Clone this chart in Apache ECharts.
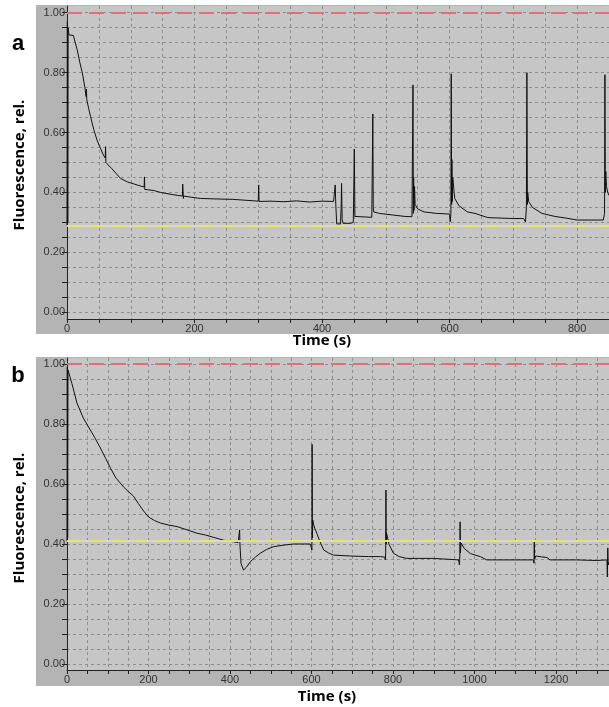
<!DOCTYPE html>
<html>
<head>
<meta charset="utf-8">
<script src="https://cdn.jsdelivr.net/npm/echarts@6/dist/echarts.min.js"></script>
<style>
  html, body { margin: 0; padding: 0; background: #fff; }
  #chart { width: 609px; height: 707px; }
</style>
</head>
<body>
<div id="chart"></div>
<script>
// panel a : fluorescence trace (time in s, relative fluorescence)
var timeA = [0, 0.6, 1.2, 1.8, 3, 10, 13, 16, 20, 24, 28, 30, 30.5, 31, 34, 37, 42, 47, 52, 57, 60, 60.5, 61, 62, 70, 84, 95, 110, 121, 121.5, 122, 123, 135, 147, 165, 181, 181.5, 182.5, 183, 195, 209, 240, 260, 262, 300, 300.6, 301.2, 302, 320, 340, 360, 380, 400, 418, 420, 420.6, 421.5, 423, 425, 429, 430, 430.6, 431.5, 433, 445, 449, 450, 450.6, 451.5, 453, 478, 479, 479.6, 480.3, 481, 490, 510, 530, 541, 542, 542.6, 543.2, 543.6, 544.2, 545, 546, 550, 560, 580, 600, 601, 602, 602.6, 603.2, 603.6, 604.2, 605, 608, 615, 628, 640, 660, 700, 716, 719, 720.5, 721.2, 722, 722.6, 724, 730, 745, 765, 784, 800, 841, 842, 843, 843.6, 844.2, 845, 846, 848, 850];
var fluoA = [0.29, 0.97, 0.30, 0.95, 0.926, 0.924, 0.90, 0.876, 0.835, 0.80, 0.75, 0.72, 0.745, 0.71, 0.68, 0.653, 0.61, 0.575, 0.55, 0.525, 0.515, 0.553, 0.50, 0.505, 0.48, 0.447, 0.435, 0.425, 0.418, 0.452, 0.41, 0.415, 0.407, 0.40, 0.393, 0.388, 0.428, 0.38, 0.388, 0.384, 0.38, 0.378, 0.377, 0.372, 0.371, 0.425, 0.37, 0.373, 0.371, 0.369, 0.372, 0.368, 0.371, 0.37, 0.372, 0.425, 0.36, 0.295, 0.30, 0.295, 0.36, 0.43, 0.31, 0.297, 0.297, 0.30, 0.30, 0.545, 0.32, 0.317, 0.317, 0.32, 0.662, 0.35, 0.335, 0.33, 0.325, 0.32, 0.319, 0.32, 0.759, 0.33, 0.45, 0.34, 0.42, 0.36, 0.345, 0.335, 0.33, 0.328, 0.302, 0.33, 0.796, 0.36, 0.51, 0.37, 0.45, 0.38, 0.355, 0.335, 0.33, 0.316, 0.313, 0.313, 0.302, 0.35, 0.80, 0.36, 0.40, 0.37, 0.35, 0.33, 0.32, 0.314, 0.308, 0.308, 0.31, 0.33, 0.793, 0.40, 0.47, 0.42, 0.40, 0.39];

// panel b
var timeB = [0, 0.8, 1.6, 2.4, 4, 12, 24.5, 40, 53, 68, 82, 95, 106, 120, 139, 151, 163, 175, 188, 200, 215, 229, 250, 270, 295, 319, 340, 360, 384, 405, 420, 423, 423.6, 424.3, 427, 433, 440, 450, 462, 474, 490, 507, 530, 556, 575, 597, 600, 601, 601.5, 602.2, 603, 606, 613, 620, 630, 642, 654, 695, 740, 769, 780, 781, 782, 782.6, 783.3, 784, 790, 801, 815, 834, 860, 899, 902, 961, 963, 964, 964.6, 965.3, 967, 975, 990, 1014, 1030, 1080, 1145, 1146, 1146.6, 1147.3, 1150, 1165, 1178, 1185, 1250, 1300, 1325, 1326, 1327, 1328, 1330];
var fluoB = [0.41, 0.99, 0.42, 0.98, 0.986, 0.935, 0.87, 0.82, 0.79, 0.755, 0.72, 0.685, 0.655, 0.62, 0.59, 0.574, 0.56, 0.535, 0.51, 0.49, 0.478, 0.47, 0.463, 0.458, 0.447, 0.436, 0.43, 0.422, 0.413, 0.408, 0.405, 0.408, 0.447, 0.40, 0.336, 0.313, 0.322, 0.341, 0.356, 0.369, 0.382, 0.391, 0.396, 0.40, 0.40, 0.40, 0.40, 0.38, 0.732, 0.42, 0.48, 0.46, 0.436, 0.41, 0.38, 0.37, 0.363, 0.36, 0.358, 0.358, 0.356, 0.347, 0.37, 0.58, 0.40, 0.437, 0.40, 0.369, 0.358, 0.352, 0.352, 0.352, 0.347, 0.347, 0.33, 0.36, 0.474, 0.37, 0.403, 0.385, 0.368, 0.358, 0.347, 0.347, 0.347, 0.336, 0.41, 0.35, 0.36, 0.357, 0.355, 0.347, 0.347, 0.345, 0.347, 0.29, 0.387, 0.33, 0.34];

// reference levels
var maxLevel = 1.0;
var baseLevelA = 0.288;
var baseLevelB = 0.408;

var xMaxA = 850, xMaxB = 1330;
var yLabelValues = [0, 0.2, 0.4, 0.6, 0.8, 1.0];
var yTickValues = [];
for (var i = 0; i <= 20; i++) yTickValues.push(+(i * 0.05).toFixed(2));

function zip(t, v) {
    return t.map(function (x, i) { return [x, v[i]]; });
}

var gridLine = { show: true, lineStyle: { color: '#8e8e8e', type: [3, 3], width: 1 } };

function makeX(idx, max) {
    return {
        type: 'value', gridIndex: idx, min: 0, max: max, interval: 50,
        axisLine: { show: true, onZero: false, lineStyle: { color: '#222', width: 1 } },
        axisTick: { show: true, length: 4, lineStyle: { color: '#222' } },
        axisLabel: {
            margin: 4, fontSize: 11, color: '#333', fontFamily: 'Liberation Sans',
            showMaxLabel: false,
            formatter: function (v) { return v % 200 === 0 ? String(v) : ''; }
        },
        splitLine: gridLine
    };
}

function makeY(idx, min, max) {
    return {
        type: 'value', gridIndex: idx, min: min, max: max,
        axisLine: { show: true, onZero: false, lineStyle: { color: '#222', width: 1 } },
        axisTick: { show: true, length: 5, customValues: yTickValues, lineStyle: { color: '#222' } },
        axisLabel: {
            margin: 2, fontSize: 11, color: '#333', fontFamily: 'Liberation Sans',
            customValues: yLabelValues,
            formatter: function (v) { return v.toFixed(2); }
        },
        splitLine: gridLine
    };
}

function refLines(base) {
    return {
        silent: true,
        symbol: ['none', 'none'],
        label: { show: false },
        data: [
            { yAxis: maxLevel, lineStyle: { color: '#de6f7c', width: 2, type: [15, 7] } },
            { yAxis: base, lineStyle: { color: '#d8d8cc', width: 2, type: 'solid' } },
            { yAxis: base, lineStyle: { color: '#e6e66c', width: 2, type: [14, 8] } }
        ]
    };
}

function trace(idx, t, v, base) {
    return {
        type: 'line', xAxisIndex: idx, yAxisIndex: idx,
        data: zip(t, v),
        showSymbol: false, symbol: 'none',
        lineStyle: { color: '#111', width: 1 },
        markLine: refLines(base),
        animation: false
    };
}

var titleFont = 'bold 15px "Open Sans"';

var option = {
    animation: false,
    graphic: [
        { type: 'rect', z: -10, silent: true, shape: { x: 36, y: 5, width: 573, height: 329 }, style: { fill: '#b4b4b4' } },
        { type: 'rect', z: -10, silent: true, shape: { x: 36, y: 357, width: 573, height: 329 }, style: { fill: '#b4b4b4' } },
        { type: 'text', x: 18, y: 44, style: { text: 'a', font: 'bold 22px "Liberation Sans"', fill: '#000', textAlign: 'center', textVerticalAlign: 'middle' } },
        { type: 'text', x: 18, y: 376, style: { text: 'b', font: 'bold 22px "Liberation Sans"', fill: '#000', textAlign: 'center', textVerticalAlign: 'middle' } },
        { type: 'text', x: 20, y: 165, rotation: Math.PI / 2, style: { text: 'Fluorescence, rel.', font: titleFont, fill: '#000', textAlign: 'center', textVerticalAlign: 'middle' } },
        { type: 'text', x: 20, y: 518, rotation: Math.PI / 2, style: { text: 'Fluorescence, rel.', font: titleFont, fill: '#000', textAlign: 'center', textVerticalAlign: 'middle' } },
        { type: 'text', x: 322, y: 341, style: { text: 'Time (s)', font: titleFont, fill: '#000', textAlign: 'center', textVerticalAlign: 'middle' } },
        { type: 'text', x: 327, y: 697, style: { text: 'Time (s)', font: titleFont, fill: '#000', textAlign: 'center', textVerticalAlign: 'middle' } }
    ],
    grid: [
        { left: 67, top: 6, right: 0, height: 313, show: true, backgroundColor: '#c6c6c6', borderWidth: 0, containLabel: false },
        { left: 67, top: 358, right: 0, height: 312, show: true, backgroundColor: '#c6c6c6', borderWidth: 0, containLabel: false }
    ],
    xAxis: [makeX(0, xMaxA), makeX(1, xMaxB)],
    yAxis: [makeY(0, -0.0224, 1.0224), makeY(1, -0.02, 1.02)],
    series: [
        trace(0, timeA, fluoA, baseLevelA),
        trace(1, timeB, fluoB, baseLevelB)
    ]
};

var chart = echarts.init(document.getElementById('chart'), null, { renderer: 'canvas' });
chart.setOption(option);
</script>
</body>
</html>
